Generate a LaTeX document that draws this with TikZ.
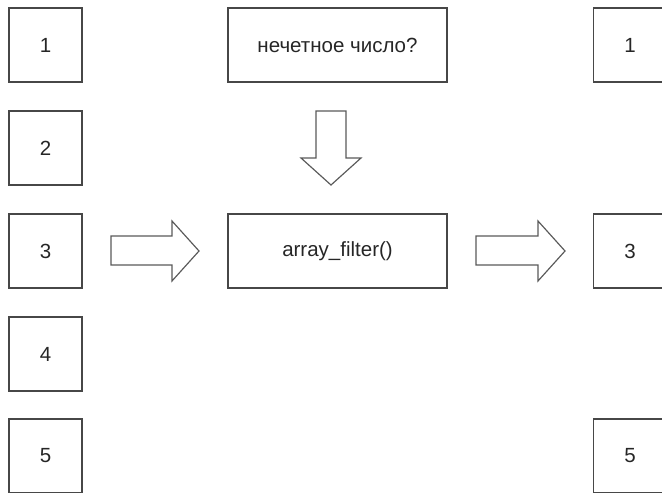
\documentclass[tikz,border=0pt]{standalone}
\usepackage{fontspec}
\setmainfont{Liberation Sans}
\tikzset{
  numbox/.style={draw=black!72, line width=1.2pt, minimum width=2.19cm, minimum height=2.22cm, inner sep=0pt, font=\fontsize{17.5}{21}\selectfont, text=black!85},
  funcbox/.style={numbox, minimum width=6.57cm},
  blockarrow/.style={draw=black!65, line width=1pt, line join=miter}
}
\begin{document}
\begin{tikzpicture}[x=0.03cm, y=-0.03cm]
        \useasboundingbox (0,0) rectangle (662,492);
        \clip (0,0) rectangle (662,492);
        % input
        \node [numbox] (in1) at (45.5,45) {1};
        \node [numbox] (in2) at (45.5,148) {2};
        \node [numbox] (in3) at (45.5,251) {3};
        \node [numbox] (in4) at (45.5,354) {4};
        \node [numbox] (in5) at (45.5,456) {5};
        % function
        \node [funcbox] (odd) at (337.5,45) {нечетное число?};
        \node [funcbox] (filter) at (337.5,251) {array\_filter()};
        % output
        \node [numbox] (out1) at (630,45) {1};
        \node [numbox] (out3) at (630,251) {3};
        \node [numbox] (out5) at (630,456) {5};
        % arrows
        \draw [blockarrow] (111,236) -- (172,236) -- (172,221) -- (199,251) -- (172,281) -- (172,265) -- (111,265) -- cycle;
        \draw [blockarrow] (476,236) -- (538,236) -- (538,221) -- (565,251) -- (538,281) -- (538,265) -- (476,265) -- cycle;
        \draw [blockarrow] (316,111) -- (346,111) -- (346,158) -- (361,158) -- (331,185) -- (301,158) -- (316,158) -- cycle;
\end{tikzpicture}
\end{document}
